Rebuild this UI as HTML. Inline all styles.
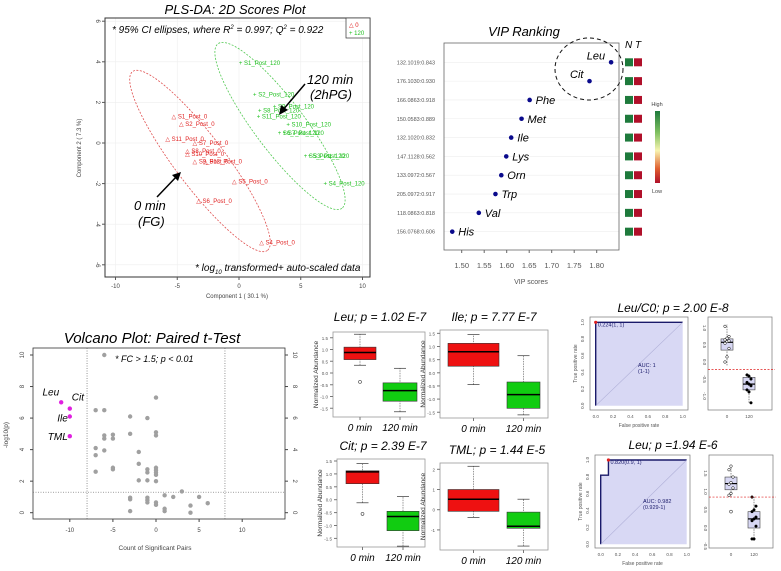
<!DOCTYPE html>
<html><head><meta charset="utf-8">
<style>
html,body{margin:0;padding:0;background:#fff;}
svg{display:block;font-family:"Liberation Sans",sans-serif;}
.it{font-style:italic;}
</style></head>
<body>
<svg id="fig" width="781" height="571" viewBox="0 0 781 571" xmlns="http://www.w3.org/2000/svg"></svg>
<script>
// ---------- PLS-DA data ----------
const plsX0 = [-5.3,-4.7,-5.8,-3.6,-4.2,-4.2,-3.6,-2.75,-0.4,-3.3,1.8];
const plsY0 = [1.3,0.94,0.2,0.0,-0.4,-0.55,-0.9,-0.9,-1.9,-2.85,-4.9];
const plsLab0 = ["S1_Post_0","S2_Post_0","S11_Post_0","S7_Post_0","S8_Post_0","S10_Post_0","S9_Post_0","S12_Post_0","S5_Post_0","S6_Post_0","S4_Post_0"];
const plsX120 = [0.15,1.3,1.7,2.9,1.6,4.0,3.3,3.7,5.4,5.75,7.0];
const plsY120 = [3.95,2.4,1.6,1.8,1.3,0.9,0.5,0.5,-0.65,-0.65,-2.0];
const plsLab120 = ["S1_Post_120","S2_Post_120","S8_Post_120","S9_Post_120","S11_Post_120","S10_Post_120","S6_Post_120","S7_Post_120","S5_Post_120","S3_Post_120","S4_Post_120"];
const plsXTicks = [-10,-5,0,5,10];
const plsYTicks = [-6,-4,-2,0,2,4,6];
// ---------- VIP data ----------
const vipNames = ["Leu","Cit","Phe","Met","Ile","Lys","Orn","Trp","Val","His"];
const vipMz = ["132.1019:0.843","176.1030:0.930","166.0863:0.918","150.0583:0.889","132.1020:0.832","147.1128:0.562","133.0972:0.567","205.0972:0.917","118.0863:0.818","156.0768:0.606"];
const vipScores = [1.832,1.784,1.651,1.633,1.610,1.599,1.588,1.575,1.538,1.479];
const vipTicks = [1.50,1.55,1.60,1.65,1.70,1.75,1.80];
// ---------- Volcano data ----------
const volX = [-6,0,-7,-6,-3,-1,-6,-6,-5,-5,-3,0,0,-7,-6,-7,-2,-2,-5,-5,-7,-1,-1,0,0,0,0,-2,-1,0,3,1,2,5,-3,-3,-1,-1,-1,0,0,6,4,1,1,-3,4];
const volY = [10,7.3,6.5,6.5,6.1,6.0,4.9,4.7,4.95,4.7,5.0,5.1,4.9,4.1,3.95,3.65,3.85,3.1,2.85,2.75,2.6,2.75,2.55,2.85,2.7,2.55,2.4,2.05,2.05,2.0,1.35,1.1,1.0,1.0,0.95,0.85,0.95,0.8,0.65,0.65,0.5,0.6,0.45,0.25,0.1,0.1,0.0];
const sigNames = ["Leu","Cit","Ile","TML"];
const sigX = [-11,-10,-10,-10];
const sigY = [7.0,6.6,6.1,4.85];
const volXTicks = [-10,-5,0,5,10];
const volYTicks = [0,2,4,6,8,10];
// ---------- Box plot data: [whiskerLo, q1, median, q3, whiskerHi] ----------
const boxTitles = ["Leu; p = 1.02 E-7","Ile; p = 7.77 E-7","Cit; p = 2.39 E-7","TML; p = 1.44 E-5"];
const box0 = [[0.33,0.57,0.87,1.1,1.65],[-0.45,0.25,0.8,1.12,1.45],[-0.12,0.62,1.08,1.12,1.4],[-0.38,-0.08,0.52,1.0,2.15]];
const box120 = [[-1.65,-1.2,-0.75,-0.42,0.2],[-1.6,-1.35,-0.83,-0.35,0.65],[-1.8,-1.2,-0.65,-0.45,0.12],[-1.8,-0.92,-0.82,-0.12,0.52]];
const boxOut0 = [[-0.38],[],[-0.55],[]];
const boxTicks = [[-1.5,-1.0,-0.5,0.0,0.5,1.0,1.5],[-1.5,-1.0,-0.5,0.0,0.5,1.0,1.5],[-1.5,-1.0,-0.5,0.0,0.5,1.0,1.5],[-1,0,1,2]];
// ---------- ROC data ----------
const roc1FPR = [0,0,1];
const roc1TPR = [0,1,1];
const roc2FPR = [0,0,0.09,0.09,1];
const roc2TPR = [0,0.82,0.82,1,1];
const rocTicks = [0,0.2,0.4,0.6,0.8,1.0];
const sbox1_0 = [-0.1,0.35,0.58,0.68,1.1];
const sbox1_120 = [-1.2,-0.82,-0.65,-0.45,-0.35];
const sbox2_0 = [0.85,1.05,1.22,1.4,1.7];
const sbox2_120 = [-0.35,0.0,0.25,0.45,0.85];
const sbox1Pts0 = [0.0,0.15,0.4,0.55,0.6,0.62,0.65,0.7,0.75,1.05];
const sbox1Pts120 = [-0.38,-0.42,-0.5,-0.6,-0.65,-0.7,-0.82,-0.88,-1.2];
const sbox2Pts0 = [0.9,0.95,1.1,1.2,1.25,1.4,1.6,1.7];
const sbox2Pts120 = [-0.3,-0.3,0.05,0.2,0.25,0.3,0.45,0.5,0.6,0.85];
const sbox1Out0 = [];
const sbox2Out0 = [0.45];

const NS="http://www.w3.org/2000/svg";
const svg=document.getElementById('fig');
function mk(tag,attrs,parent){const e=document.createElementNS(NS,tag);for(const k in attrs)e.setAttribute(k,attrs[k]);(parent||svg).appendChild(e);return e;}
function tx(str,x,y,attrs,parent){const e=mk('text',Object.assign({x:x,y:y},attrs||{}),parent);e.textContent=str;return e;}
function grp(parent){return mk('g',{},parent);}

// ================= PLS-DA =================
const gP=grp();


const px=x=>239+x*12.35, py=y=>143-y*20.3;
let t=tx("PLS-DA: 2D Scores Plot",235,14,{'text-anchor':'middle','font-size':13,'class':'it'},gP);


plsXTicks.forEach(v=>{mk('line',{x1:px(v),x2:px(v),y1:18,y2:277,stroke:'#eee','stroke-width':0.6},gP);});
plsYTicks.forEach(v=>{mk('line',{x1:105,x2:370,y1:py(v),y2:py(v),stroke:'#eee','stroke-width':0.6},gP);});
let fr=mk('rect',{x:105,y:18,width:265,height:259,fill:'none',stroke:'#333','stroke-width':1},gP);


plsXTicks.forEach(v=>{mk('line',{x1:px(v),x2:px(v),y1:277,y2:280,stroke:'#555'},gP);
 const l=tx(String(v),px(v),288,{'text-anchor':'middle','font-size':6,fill:'#444'},gP);
 
 });
plsYTicks.forEach(v=>{mk('line',{x1:102,x2:105,y1:py(v),y2:py(v),stroke:'#555'},gP);
 const l=tx(String(v),96,py(v),{'text-anchor':'middle','font-size':6,fill:'#444',transform:`rotate(90 96 ${py(v)})`},gP);
 
 });
t=tx("Component 1 ( 30.1 %)",237,298,{'text-anchor':'middle','font-size':6,fill:'#444'},gP);


t=tx("Component 2 ( 7.3 %)",81,148,{'text-anchor':'middle','font-size':6,fill:'#444',transform:'rotate(-90 81 148)'},gP);


let el=mk('ellipse',{cx:200,cy:161,rx:112,ry:25,fill:'none',stroke:'#e05050','stroke-width':0.8,'stroke-dasharray':'2,1.5',transform:'rotate(53 200 161)'},gP);


el=mk('ellipse',{cx:280,cy:126,rx:103,ry:25,fill:'none',stroke:'#50c850','stroke-width':0.8,'stroke-dasharray':'2,1.5',transform:'rotate(53 280 126)'},gP);


plsX0.forEach((v,i)=>{const g=grp(gP);
 
 
 tx("△ "+plsLab0[i],px(v)-2,py(plsY0[i])+2,{'font-size':6,fill:'#e02020'},g);});
plsX120.forEach((v,i)=>{const g=grp(gP);
 
 
 tx("+ "+plsLab120[i],px(v)-2,py(plsY120[i])+2,{'font-size':6,fill:'#20c020'},g);});
const lg=grp(gP);


mk('rect',{x:346,y:18,width:24,height:20,fill:'#fff',stroke:'#333','stroke-width':0.7},lg);
tx("△ 0",349,27,{'font-size':6,fill:'#e02020'},lg);
tx("+ 120",349,35,{'font-size':6,fill:'#20c020'},lg);
t=tx("* 95% CI ellipses, where R",112,33,{'font-size':10,'class':'it'},gP);
t.innerHTML='* 95% CI ellipses, where R<tspan dy="-4" font-size="6">2</tspan><tspan dy="4"> = 0.997; Q</tspan><tspan dy="-4" font-size="6">2</tspan><tspan dy="4"> = 0.922</tspan>';


t=tx("",195,271,{'font-size':10,'class':'it'},gP);
t.innerHTML='* log<tspan dy="3" font-size="6">10</tspan><tspan dy="-3"> transformed+ auto-scaled data</tspan>';


t=tx("120 min",307,84,{'font-size':13,'class':'it'},gP);


tx("(2hPG)",310,99,{'font-size':13,'class':'it'},gP);
t=tx("0 min",134,210,{'font-size':13,'class':'it'},gP);


tx("(FG)",138,226,{'font-size':13,'class':'it'},gP);
mk('line',{x1:305,y1:84,x2:282,y2:111,stroke:'#000','stroke-width':1.5},gP);
mk('path',{d:'M279,115 L281,105 L288,110 Z',fill:'#000'},gP);
mk('line',{x1:157,y1:197,x2:178,y2:175,stroke:'#000','stroke-width':1.5},gP);
mk('path',{d:'M181,172 L172,175 L178,181 Z',fill:'#000'},gP);

// ================= VIP =================
const gV=grp();


const vx=v=>461.7+(v-1.5)*450, vy=i=>62.3+i*18.82;
t=tx("VIP Ranking",524,36,{'text-anchor':'middle','font-size':13,'class':'it'},gV);


vipNames.forEach((n,i)=>mk('line',{x1:444,x2:619,y1:vy(i),y2:vy(i),stroke:'#eee','stroke-width':0.6},gV));
fr=mk('rect',{x:444,y:43,width:175,height:207,fill:'none',stroke:'#666','stroke-width':0.8},gV);


vipTicks.forEach(v=>{mk('line',{x1:vx(v),x2:vx(v),y1:250,y2:253,stroke:'#666'},gV);
 const l=tx(v.toFixed(2),vx(v),268,{'text-anchor':'middle','font-size':7.5,fill:'#555'},gV);
 
 });
t=tx("VIP scores",531,284,{'text-anchor':'middle','font-size':7,fill:'#555'},gV);


vipNames.forEach((n,i)=>{
 const l=tx(vipMz[i],435,vy(i)+2,{'text-anchor':'end','font-size':5.5,fill:'#555'},gV);
 
 
 const c=mk('circle',{cx:vx(vipScores[i]),cy:vy(i),r:2.3,fill:'#0a0a8c'},gV);
 
 
 const left=i<2;
 const nl=tx(n,left?vx(vipScores[i])-6:vx(vipScores[i])+6,vy(i)+(left?-3:4),{'text-anchor':left?'end':'start','font-size':11,'class':'it'},gV);
 
 
 const h1=mk('rect',{x:625,y:vy(i)-4,width:8,height:8,fill:'#1e7a3c'},gV);
 
 
 const h2=mk('rect',{x:634,y:vy(i)-4,width:8,height:8,fill:'#b0102a'},gV);
 
 
});
el=mk('ellipse',{cx:589,cy:69,rx:34,ry:31,fill:'none',stroke:'#111','stroke-width':1,'stroke-dasharray':'4,3'},gV);


t=tx("N T",625,48,{'font-size':10,'class':'it'},gV);


const defs=mk('defs',{});
const lgd=mk('linearGradient',{id:'hm',x1:0,y1:0,x2:0,y2:1},defs);
mk('stop',{offset:'0',  'stop-color':'#1e7a3c'},lgd);
mk('stop',{offset:'0.3','stop-color':'#7fc060'},lgd);
mk('stop',{offset:'0.55','stop-color':'#f8f4b0'},lgd);
mk('stop',{offset:'0.8','stop-color':'#e06030'},lgd);
mk('stop',{offset:'1','stop-color':'#b0102a'},lgd);
el=mk('rect',{x:655,y:111,width:5,height:72,fill:'url(#hm)'},gV);


tx("High",657,106,{'text-anchor':'middle','font-size':5.5,fill:'#444'},gV);
tx("Low",657,193,{'text-anchor':'middle','font-size':5.5,fill:'#444'},gV);

// ================= Volcano =================
const gW=grp();


const wx=v=>156+v*8.62, wy=v=>512.7-v*15.77;
t=tx("Volcano Plot: Paired t-Test",152,343,{'text-anchor':'middle','font-size':15,'class':'it'},gW);


fr=mk('rect',{x:33,y:348,width:252,height:171,fill:'none',stroke:'#333','stroke-width':0.8},gW);


volXTicks.forEach(v=>{mk('line',{x1:wx(v),x2:wx(v),y1:519,y2:522,stroke:'#444'},gW);
 const l=tx(String(v),wx(v),532,{'text-anchor':'middle','font-size':6,fill:'#444'},gW);
 
 });
volYTicks.forEach(v=>{mk('line',{x1:30,x2:33,y1:wy(v),y2:wy(v),stroke:'#444'},gW);
 mk('line',{x1:285,x2:288,y1:wy(v),y2:wy(v),stroke:'#444'},gW);
 const l=tx(String(v),24,wy(v),{'text-anchor':'middle','font-size':6,fill:'#444',transform:`rotate(-90 24 ${wy(v)})`},gW);
 
 
 const r=tx(String(v),293,wy(v),{'text-anchor':'middle','font-size':6,fill:'#444',transform:`rotate(90 293 ${wy(v)})`},gW);
 
 });
t=tx("Count of Significant Pairs",155,550,{'text-anchor':'middle','font-size':6.5,fill:'#444'},gW);


t=tx("-log10(p)",8,435,{'text-anchor':'middle','font-size':6.5,fill:'#444',transform:'rotate(-90 8 435)'},gW);


[-8,8].forEach(v=>mk('line',{x1:wx(v),x2:wx(v),y1:348,y2:519,stroke:'#666','stroke-width':0.7,'stroke-dasharray':'1,1.5'},gW));
mk('line',{x1:33,x2:285,y1:wy(1.3),y2:wy(1.3),stroke:'#666','stroke-width':0.7,'stroke-dasharray':'1,1.5'},gW);
t=tx("* FC > 1.5; p < 0.01",115,362,{'font-size':9,'class':'it'},gW);


volX.forEach((v,i)=>{const c=mk('circle',{cx:wx(v),cy:wy(volY[i]),r:2.2,fill:'#a0a0a0'},gW);
 
 });
sigX.forEach((v,i)=>{const c=mk('circle',{cx:wx(v),cy:wy(sigY[i]),r:2.2,fill:'#e020e0'},gW);
 
 
 const l=tx(sigNames[i],wx(v)+(i===1?2:-2),wy(sigY[i])+(i===0?-7:i===1?-8:i===2?5:4),{'text-anchor':i===1?'start':'end','font-size':10,'class':'it'},gW);
 
 });

// ================= Box plots =================
const panels=[
 {x:333,y:332,w:92,h:85,tx:380,ty:321,y0:373,k:23.5,b0:[344,376],b1:[383,417]},
 {x:440,y:330,w:108,h:88,tx:494,ty:321,y0:372.8,k:26.3,b0:[448,499],b1:[507,540]},
 {x:337,y:459,w:88,h:88,tx:383,ty:450,y0:499.7,k:25.8,b0:[346,379],b1:[387,419]},
 {x:440,y:463,w:108,h:87,tx:497,ty:454,y0:509.7,k:20.2,b0:[448,499],b1:[507,540]}
];
panels.forEach((p,pi)=>{
 const g=grp();
 
 
 const Y=v=>p.y0-v*p.k;
 const tl=tx(boxTitles[pi],p.tx,p.ty,{'text-anchor':'middle','font-size':12,'class':'it'},g);
 
 
 mk('rect',{x:p.x,y:p.y,width:p.w,height:p.h,fill:'none',stroke:'#999','stroke-width':0.8},g);
 boxTicks[pi].forEach(v=>{mk('line',{x1:p.x-3,x2:p.x,y1:Y(v),y2:Y(v),stroke:'#777'},g);
  const l=tx(v.toFixed(pi===3?0:1),p.x-5,Y(v)+2,{'text-anchor':'end','font-size':4.5,fill:'#555'},g);
  
  });
 const ya=tx("Normalized Abundance",p.x-15,p.y+p.h/2,{'text-anchor':'middle','font-size':6.5,fill:'#333',transform:`rotate(-90 ${p.x-15} ${p.y+p.h/2})`},g);
 
 
 [[box0[pi],p.b0,'#ee1111'],[box120[pi],p.b1,'#11cc11']].forEach(([s,b,c],j)=>{
  const cx=(b[0]+b[1])/2;
  mk('line',{x1:cx,x2:cx,y1:Y(s[0]),y2:Y(s[4]),stroke:'#555','stroke-width':0.6,'stroke-dasharray':'1.5,1'},g);
  mk('line',{x1:cx-6,x2:cx+6,y1:Y(s[0]),y2:Y(s[0]),stroke:'#333','stroke-width':0.7},g);
  mk('line',{x1:cx-6,x2:cx+6,y1:Y(s[4]),y2:Y(s[4]),stroke:'#333','stroke-width':0.7},g);
  const r=mk('rect',{x:b[0],y:Y(s[3]),width:b[1]-b[0],height:Y(s[1])-Y(s[3]),fill:c,stroke:'#333','stroke-width':0.6},g);
  
  
  mk('line',{x1:b[0],x2:b[1],y1:Y(s[2]),y2:Y(s[2]),stroke:'#000','stroke-width':1.5},g);
  mk('line',{x1:cx,x2:cx,y1:p.y+p.h,y2:p.y+p.h+3,stroke:'#777'},g);
  const xl=tx(j===0?"0 min":"120 min",cx,p.y+p.h+14,{'text-anchor':'middle','font-size':10,'class':'it'},g);
  
  
 });
 boxOut0[pi].forEach(v=>{const o=mk('circle',{cx:(p.b0[0]+p.b0[1])/2,cy:Y(v),r:1.5,fill:'none',stroke:'#444','stroke-width':0.6},g);
  
  });
});

// ================= ROC panels =================
function roc(opt){
 const g=grp();
 
 
 const X=v=>opt.ax0+v*(opt.ax1-opt.ax0), Y=v=>opt.ay0-v*(opt.ay0-opt.ay1);
 const tl=tx(opt.title,673,opt.ty,{'text-anchor':'middle','font-size':12,'class':'it'},g);
 
 
 mk('rect',{x:opt.fx,y:opt.fy,width:opt.fw,height:opt.fh,fill:'none',stroke:'#777','stroke-width':0.7},g);
 let d='M'+X(opt.fpr[0])+','+Y(opt.tpr[0]);
 opt.fpr.forEach((v,i)=>{d+=' L'+X(v)+','+Y(opt.tpr[i]);});
 const area=mk('path',{d:d+' L'+X(1)+','+Y(0)+' Z',fill:'#d8d8f4',stroke:'none'},g);
 
 
 const cv=mk('path',{d:d,fill:'none',stroke:'#1a1a6a','stroke-width':1.4},g);
 
 
 mk('line',{x1:X(0),y1:Y(0),x2:X(1),y2:Y(1),stroke:'#b0b0d8','stroke-width':0.6},g);
 rocTicks.forEach(v=>{
  tx(v.toFixed(1),X(v),opt.fy+opt.fh+8,{'text-anchor':'middle','font-size':4.5,fill:'#555'},g);
  tx(v.toFixed(1),opt.fx-6,Y(v),{'text-anchor':'middle','font-size':4.5,fill:'#555',transform:`rotate(-90 ${opt.fx-6} ${Y(v)})`},g);});
 tx("False positive rate",(opt.fx+opt.fx+opt.fw)/2,opt.fy+opt.fh+17,{'text-anchor':'middle','font-size':5,fill:'#555'},g);
 tx("True positive rate",opt.fx-13,opt.fy+opt.fh/2,{'text-anchor':'middle','font-size':5,fill:'#555',transform:`rotate(-90 ${opt.fx-13} ${opt.fy+opt.fh/2})`},g);
 const tp=mk('circle',{cx:X(opt.cut[0]),cy:Y(opt.cut[1]),r:1.6,fill:'#e02020'},g);
 
 
 tx(opt.cutLab,X(opt.cut[0])+2,Y(opt.cut[1])+4,{'font-size':5.5,fill:'#1a1a6a'},g);
 tx(opt.auc[0],opt.aucX,opt.aucY,{'font-size':5.5,fill:'#1a1a6a'},g);
 tx(opt.auc[1],opt.aucX,opt.aucY+6,{'font-size':5.5,fill:'#1a1a6a'},g);
 const sb=grp(g);
 
 
 mk('rect',{x:opt.bx,y:opt.fy,width:64,height:opt.fh,fill:'none',stroke:'#777','stroke-width':0.7},sb);
 const BY=v=>opt.by0-v*opt.bk;
 opt.bticks.forEach(v=>tx(v.toFixed(1),opt.bx-5,BY(v),{'text-anchor':'middle','font-size':4.5,fill:'#555',transform:`rotate(90 ${opt.bx-5} ${BY(v)})`},sb));
 [[opt.s0,opt.c0,opt.p0],[opt.s1,opt.c1,opt.p1]].forEach(([s,cx,pts],j)=>{
  mk('line',{x1:cx,x2:cx,y1:BY(s[0]),y2:BY(s[4]),stroke:'#444','stroke-width':0.6,'stroke-dasharray':'1.5,1'},sb);
  const r=mk('rect',{x:cx-6,y:BY(s[3]),width:12,height:BY(s[1])-BY(s[3]),fill:'#d8d8f4',stroke:'#444','stroke-width':0.6},sb);
  
  
  mk('line',{x1:cx-6,x2:cx+6,y1:BY(s[2]),y2:BY(s[2]),stroke:'#000','stroke-width':1.2},sb);
  pts.forEach((v,k)=>{const c=mk('circle',{cx:cx+((k%3)-1)*2,cy:BY(v),r:1.3,fill:j===0?'#fff':'#000',stroke:'#000','stroke-width':0.5},sb);
   
   });
  tx(j===0?"0":"120",cx,opt.fy+opt.fh+8,{'text-anchor':'middle','font-size':4.5,fill:'#555'},sb);
 });
 opt.out0.forEach(v=>{const o=mk('circle',{cx:opt.c0,cy:BY(v),r:1.4,fill:'none',stroke:'#444','stroke-width':0.6},sb);
  
  });
 const dl=mk('line',{x1:opt.bx,x2:opt.bx+67,y1:BY(opt.cutV),y2:BY(opt.cutV),stroke:'#e02020','stroke-width':0.7,'stroke-dasharray':'2,1.5'},sb);
 
 
}
roc({name:'roc-panel-leu-c0',title:'Leu/C0; p = 2.00 E-8',ty:312,fx:590,fy:317,fw:98,fh:93,ax0:595.7,ax1:682.7,ay0:405.7,ay1:322.3,
 fpr:roc1FPR,tpr:roc1TPR,cut:[0,1],cutLab:'0.224(1, 1)',auc:['AUC: 1','(1-1)'],aucX:638,aucY:367,
 bx:708,by0:362,bk:34,bticks:[-1.0,-0.5,0.0,0.5,1.0],s0:sbox1_0,s1:sbox1_120,c0:727,c1:749,p0:sbox1Pts0,p1:sbox1Pts120,out0:sbox1Out0,cutV:-0.22});
roc({name:'roc-panel-leu',title:'Leu; p =1.94 E-6',ty:449,fx:595,fy:455,fw:95,fh:93,ax0:600.7,ax1:686.7,ay0:544.3,ay1:460,
 fpr:roc2FPR,tpr:roc2TPR,cut:[0.09,1],cutLab:'0.820(0.9, 1)',auc:['AUC: 0.982','(0.929-1)'],aucX:643,aucY:503,
 bx:709,by0:528,bk:36.4,bticks:[-0.5,0.0,0.5,1.0,1.5],s0:sbox2_0,s1:sbox2_120,c0:731,c1:754,p0:sbox2Pts0,p1:sbox2Pts120,out0:sbox2Out0,cutV:0.85});
</script>
</body></html>
